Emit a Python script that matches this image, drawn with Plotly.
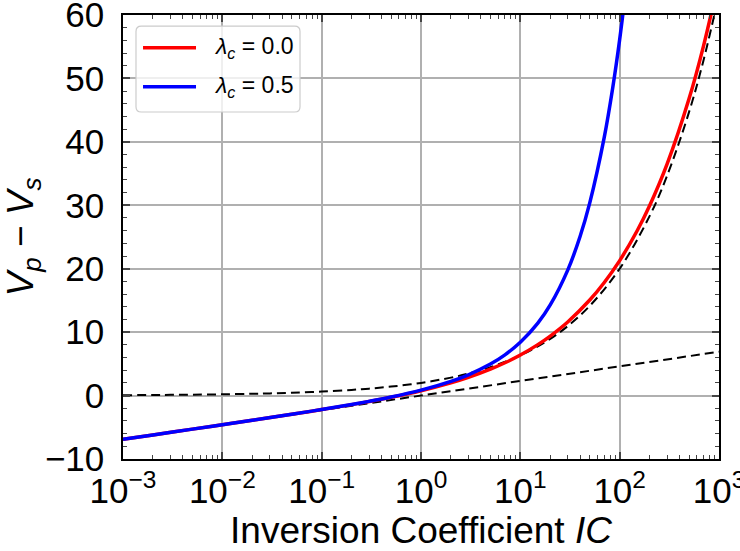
import plotly.graph_objects as go

# Inversion coefficient samples and normalized pinch-off voltage v_p - v_s
ic_red = [0.001, 0.002, 0.005, 0.01, 0.02, 0.05, 0.1, 0.2, 0.3, 0.5, 1, 2, 3, 5, 7,
          10, 15, 20, 30, 50, 70, 100, 150, 200, 300, 500, 700, 1000]
v_red = [-6.907, -6.213, -5.293, -4.595, -3.892, -2.947, -2.207, -1.426, -0.937, -0.273,
         0.755, 2.000, 2.870, 4.166, 5.170, 6.397, 8.036, 9.386, 11.609, 15.063, 17.828,
         21.278, 25.980, 29.916, 36.479, 46.818, 55.181, 65.692]

ic_blue = [0.001, 0.002, 0.005, 0.01, 0.02, 0.05, 0.1, 0.2, 0.3, 0.5, 1, 2, 3, 5, 7,
           10, 15, 20, 30, 40, 50, 70, 85, 100, 120]
v_blue = [-6.907, -6.213, -5.293, -4.595, -3.891, -2.944, -2.200, -1.411, -0.914, -0.231,
          0.854, 2.240, 3.279, 4.967, 6.420, 8.394, 11.420, 14.283, 19.776, 25.114,
          30.370, 40.747, 48.459, 56.136, 66.331]

# Strong-inversion asymptote
ic_si = [0.001, 0.002, 0.003, 0.005, 0.01, 0.02, 0.03, 0.05, 0.1, 0.2, 0.3, 0.5, 1, 2, 3,
         5, 10, 20, 30, 50, 100, 200, 300, 500, 700, 1000]
v_si = [0.063, 0.089, 0.110, 0.141, 0.200, 0.283, 0.346, 0.447, 0.632, 0.894, 1.095,
        1.414, 2.000, 2.828, 3.464, 4.472, 6.325, 8.944, 10.954, 14.142, 20.000, 28.284,
        34.641, 44.721, 52.915, 63.246]

# Weak-inversion asymptote
ic_wi = [0.001, 1000]
v_wi = [-6.908, 6.908]

labels = ["<i>λ</i><sub><i>c</i></sub> = 0.0", "<i>λ</i><sub><i>c</i></sub> = 0.5"]
colors = ["#ff0000", "#0000ff"]

x_ticks = [1e-3, 1e-2, 1e-1, 1, 10, 100, 1000]
x_ticktext = ["10<sup>−3</sup>", "10<sup>−2</sup>", "10<sup>−1</sup>", "10<sup>0</sup>",
              "10<sup>1</sup>", "10<sup>2</sup>", "10<sup>3</sup>"]
y_ticks = [-10, 0, 10, 20, 30, 40, 50, 60]
y_ticktext = ["−10", "0", "10", "20", "30", "40", "50", "60"]

FONT = "Liberation Sans, Arial, sans-serif"

fig = go.Figure()

dash_line = dict(color="black", width=2, dash="9px,5px")
fig.add_trace(go.Scatter(x=ic_si, y=v_si, mode="lines", line=dict(shape="spline", **dash_line),
                         showlegend=False, hoverinfo="skip"))
fig.add_trace(go.Scatter(x=ic_wi, y=v_wi, mode="lines", line=dash_line,
                         showlegend=False, hoverinfo="skip"))
fig.add_trace(go.Scatter(x=ic_red, y=v_red, mode="lines", name=labels[0],
                         line=dict(color=colors[0], width=3.5, shape="spline"), showlegend=False))
fig.add_trace(go.Scatter(x=ic_blue, y=v_blue, mode="lines", name=labels[1],
                         line=dict(color=colors[1], width=3.5, shape="spline"), showlegend=False))

# Legend box drawn in paper coordinates
x0, x1, y0, y1 = 0.0218, 0.297, 0.7815, 0.975
rx, ry = 0.009, 0.012
box = (f"M{x0+rx},{y0} L{x1-rx},{y0} Q{x1},{y0} {x1},{y0+ry} L{x1},{y1-ry} "
       f"Q{x1},{y1} {x1-rx},{y1} L{x0+rx},{y1} Q{x0},{y1} {x0},{y1-ry} "
       f"L{x0},{y0+ry} Q{x0},{y0} {x0+rx},{y0} Z")
shapes = [dict(type="path", path=box, xref="paper", yref="paper",
               fillcolor="rgba(255,255,255,0.8)", line=dict(color="#cccccc", width=1.2))]
annotations = []
for label, color, yy in zip(labels, colors, [0.9264, 0.8385]):
    shapes.append(dict(type="line", xref="paper", yref="paper", x0=0.0336, x1=0.1225,
                       y0=yy, y1=yy, line=dict(color=color, width=3.5)))
    annotations.append(dict(text=label, xref="paper", yref="paper", x=0.1493, y=yy,
                            xanchor="left", yanchor="middle", showarrow=False,
                            font=dict(size=23, color="black", family=FONT)))

minor_x = [m * 10 ** e for e in range(-3, 3) for m in range(2, 10)]

fig.update_layout(
    width=740, height=551,
    margin=dict(l=123, r=21, t=15, b=92),
    paper_bgcolor="white", plot_bgcolor="white",
    font=dict(family=FONT, color="black"),
    shapes=shapes, annotations=annotations,
    xaxis=dict(
        type="log", range=[-3, 3], automargin=False,
        tickmode="array", tickvals=x_ticks, ticktext=x_ticktext,
        tickfont=dict(size=35), ticks="inside", ticklen=7, tickwidth=1.5,
        ticklabeloverflow="allow",
        showline=True, linecolor="black", linewidth=1.5, mirror="allticks",
        showgrid=True, gridcolor="#b0b0b0", gridwidth=1.5, zeroline=False,
        minor=dict(tickvals=minor_x, ticks="inside", ticklen=4, tickwidth=1.2,
                   showgrid=False),
        title=dict(text="Inversion Coefficient <i>IC</i>", font=dict(size=37), standoff=4),
    ),
    yaxis=dict(
        range=[-10, 60], automargin=False,
        tickmode="array", tickvals=y_ticks, ticktext=y_ticktext,
        tickfont=dict(size=35), ticks="inside", ticklen=7, tickwidth=1.5,
        ticklabelstandoff=10, ticklabeloverflow="allow",
        showline=True, linecolor="black", linewidth=1.5, mirror="allticks",
        showgrid=True, gridcolor="#b0b0b0", gridwidth=1.5, zeroline=False,
        minor=dict(dtick=2, ticks="inside", ticklen=4, tickwidth=1.2, showgrid=False),
        title=dict(text="<i>V</i><sub><i>p</i></sub> − <i>V</i><sub><i>s</i></sub>",
                   font=dict(size=37), standoff=6),
    ),
)

fig.write_html("out.html")
